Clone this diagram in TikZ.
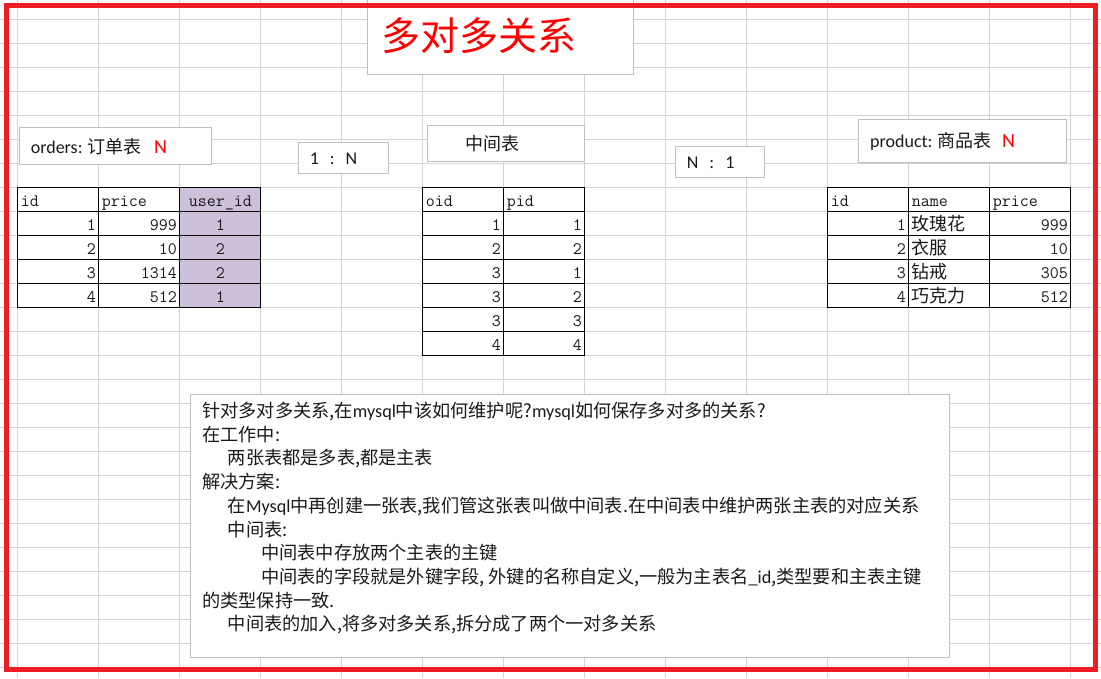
\documentclass[tikz,border=0pt]{standalone}
\usepackage{fontspec}
\newfontfamily\cjk{Noto Sans CJK SC}
\newfontfamily\calib{Carlito}
\usetikzlibrary{positioning}
\definecolor{sheetGrid}{HTML}{D4D4D4}
\definecolor{sheetBox}{HTML}{BFBFBF}
\definecolor{frameRed}{HTML}{EE1C25}
\definecolor{markRed}{HTML}{FF0000}
\definecolor{fkPurple}{HTML}{CCC0DA}
\definecolor{noteInk}{HTML}{1A1A1A}

\begin{document}
\begin{tikzpicture}[
    x=1pt, y=-1pt,
    gridline/.style={draw=sheetGrid, line width=1pt},
    note/.style={
      draw=sheetBox,
      fill=white,
      line width=1pt,
      anchor=north west,
      inner ysep=0pt,
      align=left,
      text=noteInk,
    },
    cell/.style={
      draw=black,
      line width=1pt,
      anchor=north west,
      inner xsep=3pt,
      inner ysep=0pt,
      text width=75pt,
      minimum height=24pt,
      text height=14pt,
      text depth=1pt,
      text=noteInk,
      font=\fontsize{17.5}{20}\ttfamily,
    },
    numcell/.style={cell, align=right},
    headcell/.style={cell, align=left},
    keycell/.style={cell, align=center, fill=fkPurple},
    namecell/.style={cell, align=left, font=\fontsize{18}{20}\cjk},
    lbl/.style={font=\fontsize{18}{22}\calib},
    frame/.style={draw=frameRed, line width=4.5pt},
  ]
  \fill[white] (0,0) rectangle (1101,678);
  \useasboundingbox (0,0) rectangle (1101,678);

  % spreadsheet grid
  \foreach \gx in {0,...,13}
    \draw[gridline] ({17.3+81*\gx},0) -- ({17.3+81*\gx},678);
  \foreach \gy in {0,...,27}
    \draw[gridline] (0,{19.3+24*\gy}) -- (1101,{19.3+24*\gy});

  % title and labels
  \node[note, minimum height=78pt, inner xsep=14pt, text width=238pt, text=markRed,
    font=\fontsize{39}{44}\cjk] (title) at (367.3,-4) {多对多关系};
  \node[note, minimum height=37pt, inner xsep=11pt, text width=170pt] (ordLabel) at (19.3,127.3)
    {{\calib\fontsize{18}{22}\selectfont orders:} {\cjk\fontsize{18}{22}\selectfont 订单表}\hspace{12.5pt}{\calib\fontsize{20}{22}\selectfont\color{markRed}N}};
  \node[note, minimum height=31pt, inner xsep=11pt, text width=67.4pt, lbl] (ratioLeft) at (298.3,142.3)
    {1\hspace{11pt}:\hspace{11pt}N};
  \node[note, minimum height=36pt, inner xsep=38pt, text width=81pt, font=\fontsize{18}{22}\cjk] (midLabel) at (427.3,125.3)
    {中间表};
  \node[note, minimum height=31pt, inner xsep=11pt, text width=67pt, lbl] (ratioRight) at (675.3,146.3)
    {N\hspace{11pt}:\hspace{11pt}1};
  \node[note, minimum height=43pt, inner xsep=11.4pt, text width=184.6pt] (prodLabel) at (858.3,119.3)
    {{\calib\fontsize{18}{22}\selectfont product:} {\cjk\fontsize{18}{22}\selectfont 商品表}\hspace{10.5pt}{\calib\fontsize{20}{22}\selectfont\color{markRed}N}};

  % orders table
  \node[headcell] (ordId) at (17.3,187.3) {id};
  \node[headcell] (ordPrice) at (98.3,187.3) {price};
  \node[keycell] (ordUser) at (179.3,187.3) {user\_id};
  \foreach \r/\i/\p/\u in {1/1/999/1, 2/2/10/2, 3/3/1314/2, 4/4/512/1} {
    \node[numcell] (ord-\r-id) at (17.3,{187.3+24*\r}) {\i};
    \node[numcell] (ord-\r-price) at (98.3,{187.3+24*\r}) {\p};
    \node[keycell] (ord-\r-user) at (179.3,{187.3+24*\r}) {\u};
  }

  % middle table
  \node[headcell] (midOid) at (422.3,187.3) {oid};
  \node[headcell] (midPid) at (503.3,187.3) {pid};
  \foreach \r/\o/\p in {1/1/1, 2/2/2, 3/3/1, 4/3/2, 5/3/3, 6/4/4} {
    \node[numcell] (mid-\r-oid) at (422.3,{187.3+24*\r}) {\o};
    \node[numcell] (mid-\r-pid) at (503.3,{187.3+24*\r}) {\p};
  }

  % product table
  \node[headcell] (prodId) at (827.3,187.3) {id};
  \node[headcell] (prodName) at (908.3,187.3) {name};
  \node[headcell] (prodPrice) at (989.3,187.3) {price};
  \foreach \r/\i/\n/\p in {1/1/玫瑰花/999, 2/2/衣服/10, 3/3/钻戒/305, 4/4/巧克力/512} {
    \node[numcell] (prod-\r-id) at (827.3,{187.3+24*\r}) {\i};
    \node[namecell] (prod-\r-name) at (908.3,{187.3+24*\r}) {\n};
    \node[numcell] (prod-\r-price) at (989.3,{187.3+24*\r}) {\p};
  }

  % explanation
  \node[note, minimum width=759pt, minimum height=263pt, inner sep=0pt] (memo) at (190.3,394) {};
  \node[below right=8pt and 11.7pt of memo.north west, inner sep=0pt, align=left, text=noteInk,
    font=\fontsize{18.2}{23.7}\cjk] (memoText) {%
    针对多对多关系,在{\calib mysql}中该如何维护呢?{\calib mysql}如何保存多对多的关系?\\
    在工作中:\\
    \hspace*{25.6pt}两张表都是多表,都是主表\\
    解决方案:\\
    \hspace*{25.6pt}在{\calib Mysql}中再创建一张表,我们管这张表叫做中间表.在中间表中维护两张主表的对应关系\\
    \hspace*{25.6pt}中间表:\\
    \hspace*{59pt}中间表中存放两个主表的主键\\
    \hspace*{59pt}中间表的字段就是外键字段, 外键的名称自定义,一般为主表名{\calib\_id},类型要和主表主键\\
    的类型保持一致.\\
    \hspace*{25.6pt}中间表的加入,将多对多关系,拆分成了两个一对多关系};

  \draw[frame] (6.3,5.3) rectangle (1095.7,669.7);
\end{tikzpicture}
\end{document}
